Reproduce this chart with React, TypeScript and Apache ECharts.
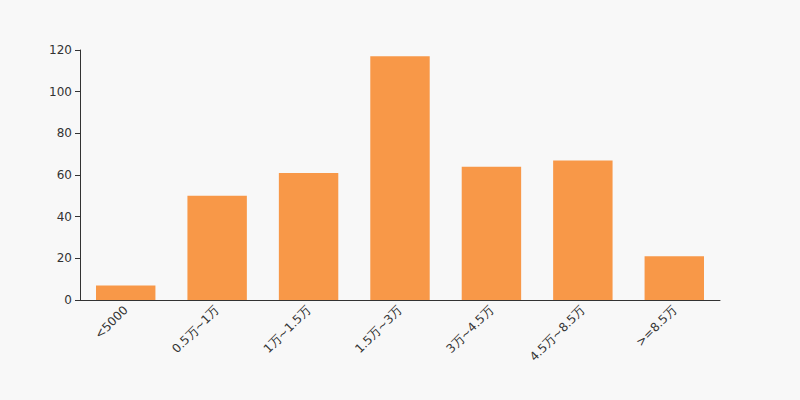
import React, { useEffect, useRef } from "react";
import * as echarts from "echarts";

const categories = ["<5000", "0.5万~1万", "1万~1.5万", "1.5万~3万", "3万~4.5万", "4.5万~8.5万", ">=8.5万"];
const values = [7, 50, 61, 117, 64, 67, 21];

export default function App() {
  const ref = useRef<HTMLDivElement>(null);
  useEffect(() => {
    document.body.style.margin = "0";
    document.body.style.background = "#f8f8f8";
    const chart = echarts.init(ref.current!, undefined, { renderer: "svg" });
    chart.setOption({
      animation: false,
      backgroundColor: "#f8f8f8",
      textStyle: { fontFamily: "DejaVu Sans" },
      grid: { left: 80, right: 80, top: 50, bottom: 100 },
      xAxis: {
        type: "category",
        data: categories,
        axisLine: { lineStyle: { color: "#333" } },
        axisTick: { lineStyle: { color: "#333" } },
        axisLabel: { rotate: 45, color: "#333", fontSize: 12, interval: 0, fontFamily: "DejaVu Sans" },
      },
      yAxis: {
        type: "value",
        min: 0,
        max: 120,
        interval: 20,
        axisLine: { show: true, lineStyle: { color: "#333" } },
        axisTick: { show: true, lineStyle: { color: "#333" } },
        axisLabel: { color: "#333", fontSize: 12, fontFamily: "DejaVu Sans" },
        splitLine: { show: false },
      },
      series: [
        {
          type: "bar",
          data: values,
          barWidth: "65%",
          itemStyle: { color: "#f89848" },
        },
      ],
    });
    return () => chart.dispose();
  }, []);
  return <div ref={ref} style={{ position: "fixed", left: 0, top: 0, width: 800, height: 400 }} />;
}
